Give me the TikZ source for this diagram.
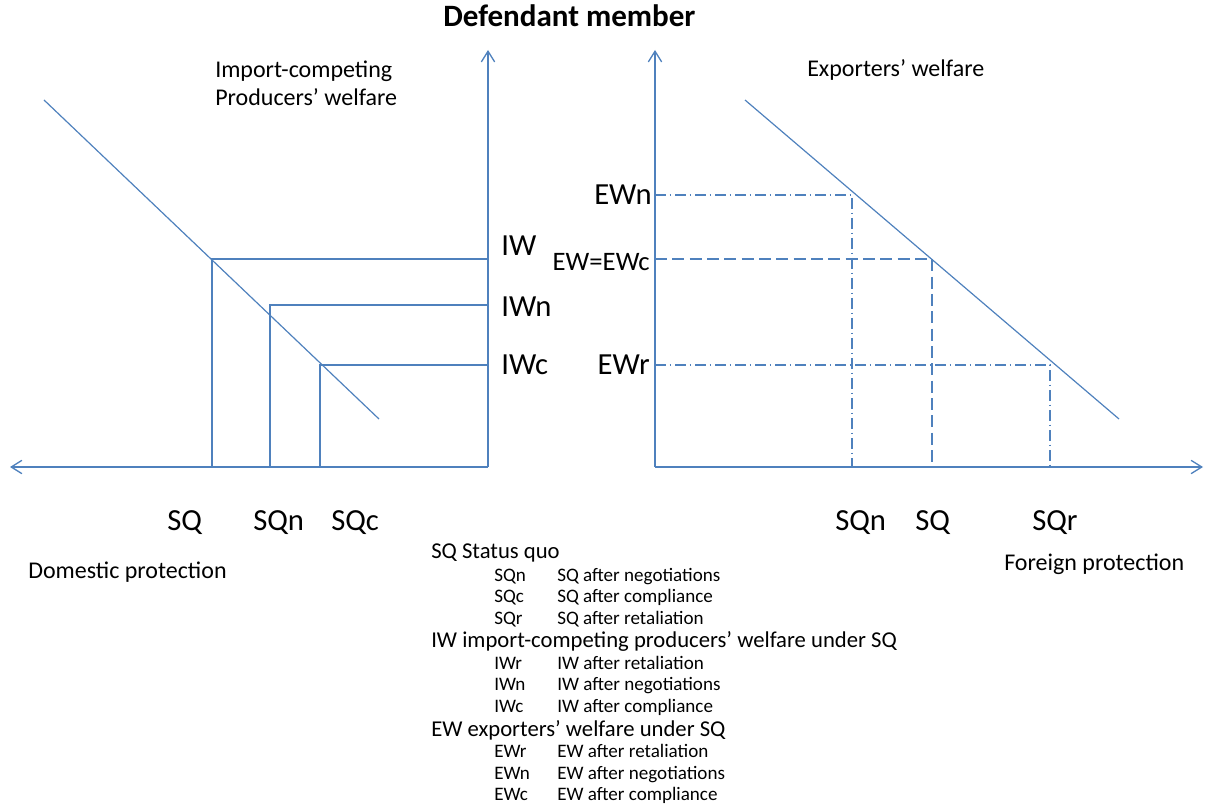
\documentclass[tikz,border=0pt]{standalone}
\usepackage{fontspec}
\setmainfont{Carlito}
\usetikzlibrary{arrows.meta}
\definecolor{ln}{HTML}{4F81BD}
\begin{document}
\begin{tikzpicture}[x=0.75pt,y=-0.75pt,
  axis/.style={draw=ln, line width=1.1pt, -{Straight Barb[length=8pt,width=10pt,line width=1pt]}},
  curve/.style={draw=ln, line width=0.9pt},
  guide/.style={draw=ln, line width=0.9pt},
  dsh/.style={guide, dash pattern=on 9pt off 4pt},
  dsd/.style={guide, dash pattern=on 8pt off 3pt on 1pt off 3pt},
  tick/.style={inner sep=0pt, font=\fontsize{23}{26}\selectfont},
  tickS/.style={inner sep=0pt, font=\fontsize{20}{23}\selectfont},
  axlbl/.style={inner sep=0pt, anchor=base west, font=\fontsize{18}{21}\selectfont},
  head/.style={inner sep=0pt, anchor=base west, font=\fontsize{17}{20}\selectfont},
  sub/.style={inner sep=0pt, anchor=base west, font=\fontsize{14.3}{17}\selectfont},
  title/.style={inner sep=0pt, anchor=base west, font=\fontsize{23.3}{27}\selectfont\bfseries}
]
\useasboundingbox (0,0) rectangle (1205,805);

% coordinates
\coordinate (LO) at (488,467);
\coordinate (LY) at (488,50);
\coordinate (LX) at (10,467);
\coordinate (RO) at (655,467);
\coordinate (RY) at (655,50);
\coordinate (RX) at (1203,467);
\coordinate (L1) at (44,100);
\coordinate (L2) at (379,419);
\coordinate (R1) at (745,100);
\coordinate (R2) at (1119,419);
\coordinate (A) at (212,259);
\coordinate (B) at (270,305);
\coordinate (C) at (320,365);
\coordinate (N) at (852,195);
\coordinate (E) at (932,259);
\coordinate (Q) at (1050,365);

% title
\node[title] (title) at (443,27) {Defendant member};

% left chart
\draw[axis] (LO) -- (LY);
\draw[axis] (LO) -- (LX);
\draw[curve] (L1) -- (L2);
\draw[guide] (A |- LO) -- (A) -- (A -| LO);
\draw[guide] (B |- LO) -- (B) -- (B -| LO);
\draw[guide] (C |- LO) -- (C) -- (C -| LO);

\node[axlbl] (ic1) at (215,78) {Import-competing};
\node[axlbl] (ic2) at (215,106) {Producers’ welfare};
\node[tick, anchor=base west] (IW) at (501,256) {IW};
\node[tick, anchor=base west] (IWn) at (501,316) {IWn};
\node[tick, anchor=base west] (IWc) at (501,374) {IWc};
\node[tick, anchor=base west] (SQl) at (167,530) {SQ};
\node[tick, anchor=base west] (SQnl) at (253,530) {SQn};
\node[tick, anchor=base west] (SQcl) at (331,530) {SQc};
\node[axlbl] (dom) at (28,578) {Domestic protection};

% right chart
\draw[axis] (RO) -- (RY);
\draw[axis] (RO) -- (RX);
\draw[curve] (R1) -- (R2);
\draw[dsd] (N -| RO) -- (N) -- (N |- RO);
\draw[dsh] (E -| RO) -- (E) -- (E |- RO);
\draw[dsd] (Q -| RO) -- (Q) -- (Q |- RO);

\node[axlbl] (exp) at (807,77) {Exporters’ welfare};
\node[tick, anchor=base east] (EWn) at (652,205) {EWn};
\node[tickS, anchor=base east] (EWc) at (650,271) {EW=EWc};
\node[tick, anchor=base east] (EWr) at (650,374) {EWr};
\node[tick, anchor=base west] (SQnr) at (835,530) {SQn};
\node[tick, anchor=base west] (SQr0) at (915,530) {SQ};
\node[tick, anchor=base west] (SQrr) at (1032,530) {SQr};
\node[axlbl] (for) at (1004,570) {Foreign protection};

% legend
\node[head] (h1) at (431,558) {SQ Status quo};
\node[sub] (a1) at (494,581) {SQn};  \node[sub] (b1) at (557,581) {SQ after negotiations};
\node[sub] (a2) at (494,602) {SQc};  \node[sub] (b2) at (557,602) {SQ after compliance};
\node[sub] (a3) at (494,624) {SQr};  \node[sub] (b3) at (557,624) {SQ after retaliation};
\node[head] (h2) at (431,647) {IW import-competing producers’ welfare under SQ};
\node[sub] (a4) at (494,669) {IWr};  \node[sub] (b4) at (557,669) {IW after retaliation};
\node[sub] (a5) at (494,690) {IWn};  \node[sub] (b5) at (557,690) {IW after negotiations};
\node[sub] (a6) at (494,712) {IWc};  \node[sub] (b6) at (557,712) {IW after compliance};
\node[head] (h3) at (431,736) {EW exporters’ welfare under SQ};
\node[sub] (a7) at (494,757) {EWr};  \node[sub] (b7) at (557,757) {EW after retaliation};
\node[sub] (a8) at (494,779) {EWn};  \node[sub] (b8) at (557,779) {EW after negotiations};
\node[sub] (a9) at (494,800) {EWc};  \node[sub] (b9) at (557,800) {EW after compliance};
\end{tikzpicture}
\end{document}
